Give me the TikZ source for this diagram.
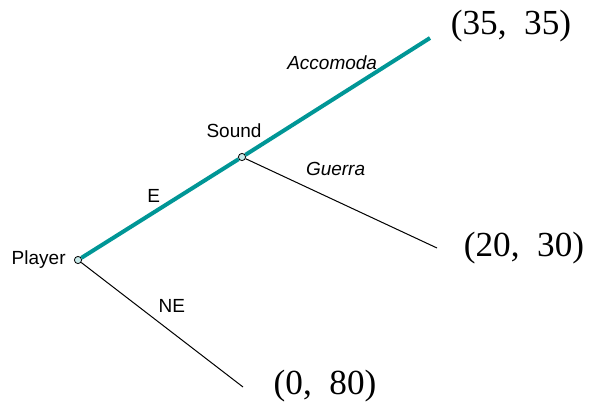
\documentclass[tikz,border=0pt]{standalone}
\usepackage{fontspec}
\setmainfont{Liberation Serif}
\setsansfont{Liberation Sans}
\usetikzlibrary{positioning}
\definecolor{eqteal}{RGB}{0,150,150}
\definecolor{decfill}{RGB}{200,235,235}

\begin{document}
\begin{tikzpicture}[x=.5pt,y=.5pt,
 dec/.style={circle,draw,fill=decfill,line width=.4pt,minimum size=3.6pt,inner sep=0pt},
 mv/.style={line width=.5pt},
 eq/.style={line width=2pt,eqteal},
 lab/.style={font=\sffamily\fontsize{9.5}{11}\selectfont,inner sep=1pt},
 act/.style={font=\sffamily\itshape\fontsize{9.5}{11}\selectfont,inner sep=1pt},
 pay/.style={font=\fontsize{17.6}{20}\selectfont,inner sep=0pt}]
\useasboundingbox (0,0) rectangle (589,403);
% decision nodes
\node[dec] (pl) at (78,143) {};
\node[dec] (snd) at (242,246) {};
\node[lab,left=3pt of pl] (pl-lab) {Player};
\node[lab] (snd-lab) at (234,272) {Sound};
% terminal points
\coordinate (acc) at (430,365);
\coordinate (gue) at (437,155);
\coordinate (ne) at (243,16);
\node[pay] (pay-acc) at (511,377) {(35,\ \ 35)};
\node[pay] (pay-gue) at (524,155) {(20,\ \ 30)};
\node[pay] (pay-ne) at (325,17) {(0,\ \ 80)};
% moves
\draw[mv] (pl) -- node[lab,pos=.56,yshift=13pt] (ne-lab) {NE} (ne);
\draw[mv] (snd) -- node[act,pos=.47,yshift=16pt] (gue-lab) {Guerra} (gue);
\draw[eq] (pl) -- node[lab,black,pos=.46,yshift=8pt] (e-lab) {E} (snd);
\draw[eq] (snd) -- node[act,black,pos=.47,yshift=18.5pt] (acc-lab) {Accomoda} (acc);
\end{tikzpicture}
\end{document}
